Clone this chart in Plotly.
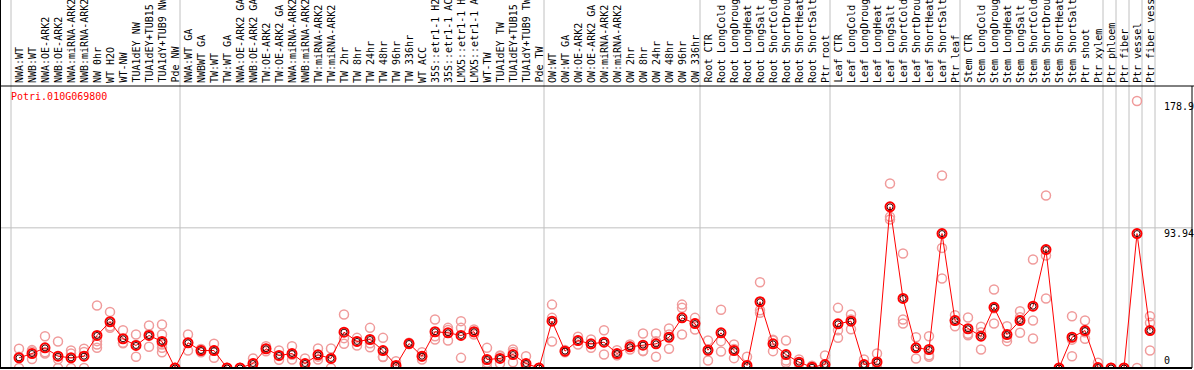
import plotly.graph_objects as go

gene_id = "Potri.010G069800"

categories = [
    "NWA:WT", "NWB:WT", "NWA:OE-ARK2", "NWB:OE-ARK2", "NWA:miRNA-ARK2", "NWB:miRNA-ARK2",
    "NW 0hr", "WT H2O", "WT-NW", "TUA1dEY NW", "TUA1dEY+TUB15 NW", "TUA1dY+TUB9 NW", "Pde NW",
    "NWA:WT GA", "NWBWT GA", "TW:WT", "TW:WT GA", "NWA:OE-ARK2 GA", "NWB:OE-ARK2 GA",
    "TW:OE-ARK2", "TW:OE-ARK2 GA", "NWA:miRNA-ARK2", "NWB:miRNA-ARK2", "TW:miRNA-ARK2",
    "TW:miRNA-ARK2", "TW 2hr", "TW 8hr", "TW 24hr", "TW 48hr", "TW 96hr", "TW 336hr", "WT ACC",
    "35S::etr1-1 H2O", "35S::etr1-1 ACC", "LMX5::etr1-1 H2O", "LMX5::etr1-1 ACC", "WT-TW",
    "TUA1dEY TW", "TUA1dEY+TUB15 TW", "TUA1dY+TUB9 TW", "Pde TW",
    "OW:WT", "OW:WT GA", "OW:OE-ARK2", "OW:OE-ARK2 GA", "OW:miRNA-ARK2", "OW:miRNA-ARK2",
    "OW 2hr", "OW 8hr", "OW 24hr", "OW 48hr", "OW 96hr", "OW 336hr",
    "Root CTR", "Root LongCold", "Root LongDrought", "Root LongHeat", "Root LongSalt",
    "Root ShortCold", "Root ShortDrought", "Root ShortHeat", "Root ShortSalt", "Ptr root",
    "Leaf CTR", "Leaf LongCold", "Leaf LongDrought", "Leaf LongHeat", "Leaf LongSalt",
    "Leaf ShortCold", "Leaf ShortDrought", "Leaf ShortHeat", "Leaf ShortSalt", "Ptr leaf",
    "Stem CTR", "Stem LongCold", "Stem LongDrought", "Stem LongHeat", "Stem LongSalt",
    "Stem ShortCold", "Stem ShortDrought", "Stem ShortHeat", "Stem ShortSalt", "Ptr shoot",
    "Ptr xylem", "Ptr phloem", "Ptr fiber", "Ptr vessel", "Ptr fiber vessel",
]

group_sizes = [13, 28, 12, 10, 10, 11, 1, 1, 1, 1]

mean_expr = [
    6.8, 9.7, 13.5, 7.9, 6.8, 7.9, 21.8, 31.0, 19.6, 15.1, 21.8, 17.8, 0.0,
    16.9, 11.7, 11.7, 0.0, 0.0, 3.0, 12.9, 8.4, 9.7, 3.0, 8.8, 6.4, 24.0, 17.8, 19.1, 11.7,
    1.7, 16.4, 7.9, 24.3, 23.6, 21.8, 24.3, 5.7, 6.4, 9.0, 3.0, 0.0,
    31.4, 11.3, 18.4, 16.2, 17.3, 9.7, 14.2, 15.3, 16.2, 20.6, 33.6, 29.8,
    11.9, 23.6, 11.7, 1.7, 44.4, 16.2, 9.0, 3.9, 0.5, 2.3,
    29.6, 31.4, 2.3, 4.1, 108.0, 46.6, 13.5, 12.4, 90.1, 31.8,
    26.3, 21.3, 40.7, 22.4, 31.8, 41.4, 79.4, 0.0, 20.6, 25.1, 0.3,
    0.0, 0.0, 90.1, 25.1,
]

replicates = [
    [12.9, 7.5, 0], [12.0, 11.0, 6.0], [21.3, 10.6, 9.7], [17.8, 5.9, 0], [11.7, 9.7, 0],
    [12.9, 10.8, 0], [41.9, 18.0, 15.7, 13.5], [37.6, 28.0, 27.0], [25.3, 16.9, 16.6],
    [22.4, 15.4, 7.5], [28.5, 22.7, 14.2], [29.1, 22.4, 15.7, 13.5, 10.6], [0, 0, 0],
    [22.4, 16.9, 11.7], [12.8, 11.7, 10.6], [16.2, 11.7, 6.8], [0, 0, 0], [0, 0, 0],
    [6.4, 2.7, 0], [14.6, 12.9, 11.2], [11.7, 8.0, 5.5], [14.6, 8.8, 5.7], [6.4, 2.6, 0],
    [13.1, 7.6, 5.7], [13.1, 6.1, 0], [35.8, 20.0, 16.2], [20.2, 17.8, 15.1],
    [26.9, 16.6, 13.9], [20.2, 7.5, 7.4], [4.6, 0.5, 0], [16.9, 16.4, 16.0],
    [10.6, 7.5, 5.7], [32.5, 21.3, 19.1], [26.9, 25.5, 18.4], [31.4, 26.9, 6.8],
    [25.8, 24.0, 22.4], [13.5, 3.6, 0], [8.4, 7.8, 3.0], [12.4, 10.7, 3.9], [7.9, 1.0, 0],
    [0, 0, 0],
    [42.5, 33.6, 17.8], [12.0, 11.3, 10.6], [20.9, 18.5, 15.7], [19.1, 16.0, 13.5],
    [25.3, 17.5, 9.0], [11.9, 8.5, 8.7], [15.7, 14.4, 12.4], [23.1, 11.5, 11.3],
    [23.1, 18.0, 7.5], [26.5, 22.4, 12.9], [42.5, 40.3, 22.4], [33.6, 30.0, 25.8],
    [18.4, 12.3, 5.0], [39.0, 18.0, 11.0], [15.7, 12.8, 6.6], [7.5, 0, 0], [57.5, 38.7, 37.0],
    [18.4, 19.0, 11.3], [18.4, 5.0, 3.5], [5.7, 3.0, 3.0], [1.5, 0, 0], [8.4, 0, 0],
    [40.3, 25.3, 20.2], [35.8, 32.5, 26.0], [5.7, 0, 0], [9.7, 3.0, 0], [123.6, 101.3, 99.5],
    [76.7, 32.5, 29.8], [20.6, 13.5, 6.4], [21.3, 8.6, 7.5], [129.0, 80.5, 60.0],
    [35.4, 32.0, 28.0],
    [33.8, 23.0, 22.0], [27.6, 24.0, 12.4], [52.6, 40.0, 29.8], [28.0, 20.2, 18.0],
    [38.0, 34.0, 23.6], [72.7, 31.8, 19.8], [115.6, 75.4, 46.6], [0, 0, 0],
    [34.7, 19.0, 7.9], [31.8, 24.0, 19.6], [3.5, 0, 0],
    [0, 0], [0, 0], [178.9, 0], [34.7, 30.3, 11.7],
]

y_labels = [178.9, 93.94, 0]
grid_values = [93.94]

# ---------------- layout geometry ----------------
W, H = 1194, 370
ML, MR, MT, MB = 1, 2, 86, 2
PW = W - ML - MR
PH = H - MT - MB
STEP = 13.0          # pixels per category
FIRST = 19.0         # pixel of first category centre
x_range = [(ML - FIRST) / STEP, (ML + PW - FIRST) / STEP]
y_max = 189.0

def px_to_paper_x(p):
    return (p - ML) / PW

def idx_to_paper_x(x):
    p = FIRST + STEP * x
    return px_to_paper_x(p)

top_paper = 1 + MT / PH
FONT = "DejaVu Sans Mono"

fig = go.Figure()

# replicate points
rx, ry = [], []
for i, reps in enumerate(replicates):
    for v in reps:
        rx.append(i)
        ry.append(v)
fig.add_trace(go.Scatter(
    x=rx, y=ry, mode="markers",
    marker=dict(symbol="circle-open", size=9, color="rgb(240,155,155)", line=dict(width=1.5)),
    hoverinfo="skip", showlegend=False))

xs = list(range(len(categories)))
fig.add_trace(go.Scatter(
    x=xs, y=mean_expr, mode="lines+markers",
    line=dict(color="red", width=1),
    marker=dict(symbol="circle-open", size=9, color="red", line=dict(width=2)),
    text=categories, showlegend=False))
fig.add_trace(go.Scatter(
    x=xs, y=mean_expr, mode="markers",
    marker=dict(symbol="circle-open", size=6, color="rgb(60,0,0)", line=dict(width=1)),
    hoverinfo="skip", showlegend=False))

shapes = []
# group separators
k = 0
bounds = [0]
for g in group_sizes:
    k += g
    bounds.append(k)
for b in bounds:
    xp = idx_to_paper_x(b - 0.615)
    shapes.append(dict(type="line", xref="paper", yref="paper", x0=xp, x1=xp, y0=0, y1=top_paper,
                       line=dict(color="#c0c0c0", width=1), layer="below"))
# horizontal grid
for gv in grid_values:
    shapes.append(dict(type="line", xref="paper", yref="y", x0=px_to_paper_x(0), x1=1, y0=gv, y1=gv,
                       line=dict(color="#c0c0c0", width=1), layer="below"))
# frame
shapes.append(dict(type="line", xref="paper", yref="paper", x0=px_to_paper_x(0), x1=px_to_paper_x(W),
                   y0=1, y1=1, line=dict(color="black", width=1)))
shapes.append(dict(type="line", xref="paper", yref="paper", x0=px_to_paper_x(0), x1=1,
                   y0=0, y1=0, line=dict(color="black", width=2)))
shapes.append(dict(type="line", xref="paper", yref="paper", x0=px_to_paper_x(0.5), x1=px_to_paper_x(0.5),
                   y0=0, y1=top_paper, line=dict(color="black", width=1)))
shapes.append(dict(type="line", xref="paper", yref="paper", x0=1, x1=1,
                   y0=0, y1=1, line=dict(color="black", width=1)))

annotations = []
for i, c in enumerate(categories):
    annotations.append(dict(x=i, y=1, xref="x", yref="paper", text=c, showarrow=False,
                            textangle=-90, xanchor="center", yanchor="bottom", yshift=1,
                            font=dict(family=FONT, size=10, color="black")))
annotations.append(dict(x=px_to_paper_x(9), y=1, xref="paper", yref="paper", text=gene_id,
                        showarrow=False, xanchor="left", yanchor="top", yshift=-3,
                        font=dict(family=FONT, size=10, color="red")))
for v in y_labels:
    annotations.append(dict(x=px_to_paper_x(1162), y=v, xref="paper", yref="y", text=str(v),
                            showarrow=False, xanchor="left",
                            yanchor="bottom" if v == 0 else "top", yshift=0 if v == 0 else 2,
                            font=dict(family=FONT, size=10, color="black")))

fig.update_layout(
    width=W, height=H,
    margin=dict(l=ML, r=MR, t=MT, b=MB, pad=0),
    paper_bgcolor="white", plot_bgcolor="white",
    xaxis=dict(range=x_range, showgrid=False, zeroline=False, showticklabels=False,
               showline=False, ticks="", fixedrange=True),
    yaxis=dict(range=[0, y_max], showgrid=False, zeroline=False, showticklabels=False,
               showline=False, ticks="", fixedrange=True),
    shapes=shapes, annotations=annotations, showlegend=False,
)

fig.write_html("out.html", config={"displayModeBar": False},
               post_script="document.body.style.margin='0px';document.body.style.overflow='hidden';")
